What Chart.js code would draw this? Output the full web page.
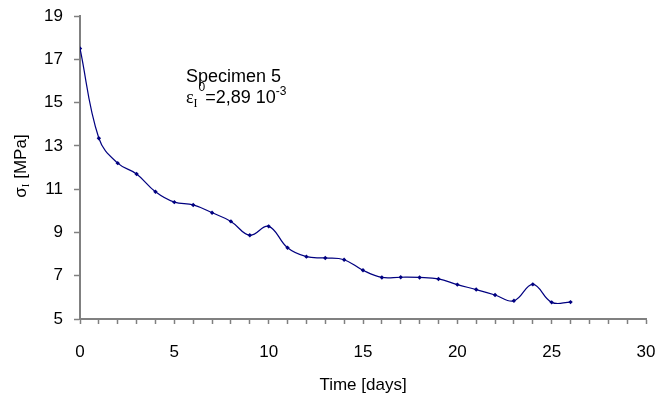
<!DOCTYPE html>
<html>
<head>
<meta charset="utf-8">
<script src="https://cdn.jsdelivr.net/npm/chart.js@4/dist/chart.umd.min.js"></script>
<style>
  html, body { margin: 0; padding: 0; background: #fff; }
  #wrap { width: 656px; height: 396px; }
</style>
</head>
<body>
<div id="wrap"><canvas id="chart" width="656" height="396"></canvas></div>
<script>
// ─────────────────────────────────────────────
// Data
// ─────────────────────────────────────────────
const DAYS = [0, 1, 2, 3, 4, 5, 6, 7, 8, 9, 10, 11, 12, 13, 14, 15, 16, 17, 18, 19, 20, 21, 22, 23, 24, 25, 26];
const STRESS = [17.5, 13.35, 12.2, 11.7, 10.88, 10.4, 10.27, 9.91, 9.51, 8.87, 9.28, 8.29, 7.88, 7.82, 7.74,
                7.25, 6.92, 6.93, 6.92, 6.85, 6.59, 6.36, 6.11, 5.84, 6.6, 5.77, 5.78];
const X_RANGE = [0, 30];
const Y_RANGE = [5, 19];

const NAVY = "#000080";
const AXIS = "#808080";
const SANS = '"Liberation Sans", Arial, sans-serif';
const SERIF = '"Liberation Serif", "Times New Roman", serif';

// zero out the label overflow paddings so layout.padding alone sets the plot box
function noOverflow(s) {
  s.paddingTop = 0;
  s.paddingBottom = 0;
  s.paddingLeft = 0;
  s.paddingRight = 0;
}

// ─────────────────────────────────────────────
// Annotation + y title with sub/superscripts
// ─────────────────────────────────────────────
const labelsPlugin = {
  id: "labels",
  afterDraw(chart) {
    const ctx = chart.ctx;
    ctx.save();
    ctx.fillStyle = "#000";
    ctx.textBaseline = "alphabetic";
    ctx.textAlign = "left";

    // Specimen text
    ctx.font = `18px ${SANS}`;
    ctx.fillText("Specimen 5", 186, 82);

    // εI^0 = 2,89 10^-3
    let x = 186;
    ctx.font = `18px ${SERIF}`;
    ctx.fillText("ε", x, 103);
    x += ctx.measureText("ε").width;
    ctx.font = `12px ${SERIF}`;
    ctx.fillText("I", x, 107);
    x += ctx.measureText("I").width + 1;
    ctx.font = `12px ${SANS}`;
    ctx.fillText("0", x, 91);
    x += ctx.measureText("0").width;
    ctx.font = `18px ${SANS}`;
    ctx.fillText("=2,89 10", x, 103);
    x += ctx.measureText("=2,89 10").width;
    ctx.font = `12px ${SANS}`;
    ctx.fillText("-3", x, 95);

    // Y axis title: σI [MPa]
    ctx.translate(26, 166);
    ctx.rotate(-Math.PI / 2);
    ctx.font = `17px ${SANS}`;
    const wSig = ctx.measureText("σ").width;
    const wRest = ctx.measureText(" [MPa]").width;
    ctx.font = `11px ${SERIF}`;
    const wSub = ctx.measureText("I").width;
    let tx = -(wSig + wSub + wRest) / 2;
    ctx.font = `17px ${SANS}`;
    ctx.fillText("σ", tx, 0);
    tx += wSig;
    ctx.font = `11px ${SERIF}`;
    ctx.fillText("I", tx, 3);
    tx += wSub;
    ctx.font = `17px ${SANS}`;
    ctx.fillText(" [MPa]", tx, 0);
    ctx.restore();
  }
};

new Chart(document.getElementById("chart"), {
  type: "line",
  data: {
    labels: DAYS,
    datasets: [{
      data: DAYS.map((d, i) => ({ x: d, y: STRESS[i] })),
      borderColor: NAVY,
      backgroundColor: NAVY,
      borderWidth: 1.2,
      pointStyle: "rectRot",
      pointRadius: 2.2,
      pointBorderWidth: 0,
      tension: 0.4,
      fill: false,
    }]
  },
  options: {
    responsive: false,
    animation: false,
    layout: { autoPadding: false, padding: { top: 16, right: 10, bottom: 0, left: 0 } },
    plugins: {
      legend: { display: false },
      tooltip: { enabled: false },
    },
    scales: {
      x: {
        type: "linear",
        min: X_RANGE[0],
        max: X_RANGE[1],
        afterFit: s => { s.height = 77; noOverflow(s); },
        border: { display: true, color: AXIS, width: 2 },
        grid: { display: true, drawOnChartArea: false, drawTicks: true, tickLength: 5, tickColor: AXIS, tickWidth: 1.5 },
        ticks: {
          stepSize: 1,
          autoSkip: false,
          maxRotation: 0,
          padding: 18,
          color: "#000",
          font: { family: SANS, size: 17 },
          callback: v => (v % 5 === 0 ? v : ""),
        },
        title: {
          display: true,
          text: "Time [days]",
          color: "#000",
          font: { family: SANS, size: 17 },
          padding: { top: 0, bottom: 0 },
        },
      },
      y: {
        min: Y_RANGE[0],
        max: Y_RANGE[1],
        afterFit: s => { s.width = 80; noOverflow(s); },
        border: { display: true, color: AXIS, width: 2 },
        grid: { display: true, drawOnChartArea: false, drawTicks: true, tickLength: 6, tickColor: AXIS, tickWidth: 1.5 },
        ticks: {
          stepSize: 2,
          padding: 11,
          color: "#000",
          font: { family: SANS, size: 17 },
        },
      },
    },
  },
  plugins: [labelsPlugin],
});
</script>
</body>
</html>
